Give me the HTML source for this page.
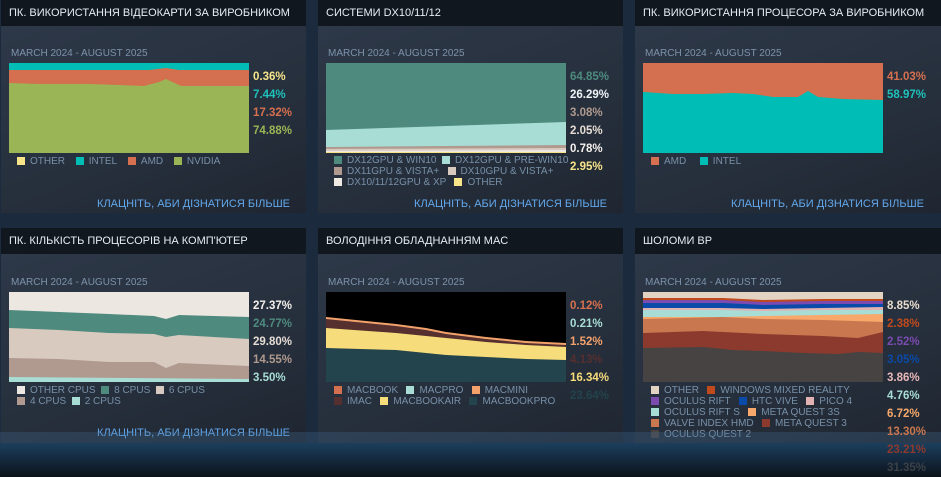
<!DOCTYPE html>
<html><head><meta charset="utf-8"><style>
*{margin:0;padding:0;box-sizing:border-box}
body{width:941px;height:477px;overflow:hidden;background:#1b2a3c;font-family:"Liberation Sans","DejaVu Sans",sans-serif;position:relative}
.hd{position:absolute;height:26px;background:#10171f;color:#e6eef5;font-size:11px;line-height:26px;padding-left:8px;white-space:nowrap;overflow:hidden}
.bd{position:absolute;background:linear-gradient(160deg,#2d3848 0%,#262f3c 60%,#1f2631 100%)}
.sub{position:absolute;font-size:10px;color:#7d93ab;white-space:nowrap}
.ch{position:absolute;width:240px;height:90px}
.pl{position:absolute;font-size:11.5px;font-weight:bold;line-height:18px;white-space:nowrap}
.lg{position:absolute;font-size:10px;color:#7890a8;line-height:11px;white-space:nowrap}
.lg i{display:inline-block;width:8px;height:8px;vertical-align:-1px;margin-right:5px}
.lg span{margin-right:8px}
.lk{position:absolute;font-size:11px;color:#62a8ec;white-space:nowrap;text-align:right;width:290px}
.ft1{position:absolute;left:0;top:432px;width:941px;height:11px;background:rgba(70,110,150,0.28)}
.ft2{position:absolute;left:0;top:443px;width:941px;height:34px;background:linear-gradient(180deg,#1c3f5d 0%,#13263a 55%,#0c1219 100%)}
</style></head><body>

<div class="hd" style="left:1px;top:0;width:305px">ПК. ВИКОРИСТАННЯ ВІДЕОКАРТИ ЗА ВИРОБНИКОМ</div>
<div class="bd" style="left:1px;top:26px;width:305px;height:187px"></div>
<div class="hd" style="left:318px;top:0;width:305px">СИСТЕМИ DX10/11/12</div>
<div class="bd" style="left:318px;top:26px;width:305px;height:187px"></div>
<div class="hd" style="left:635px;top:0;width:306px">ПК. ВИКОРИСТАННЯ ПРОЦЕСОРА ЗА ВИРОБНИКОМ</div>
<div class="bd" style="left:635px;top:26px;width:306px;height:187px"></div>

<div class="hd" style="left:1px;top:228px;width:305px">ПК. КІЛЬКІСТЬ ПРОЦЕСОРІВ НА КОМП'ЮТЕР</div>
<div class="bd" style="left:1px;top:254px;width:305px;height:189px"></div>
<div class="hd" style="left:318px;top:228px;width:305px">ВОЛОДІННЯ ОБЛАДНАННЯМ MAC</div>
<div class="bd" style="left:318px;top:254px;width:305px;height:189px"></div>
<div class="hd" style="left:635px;top:228px;width:306px">ШОЛОМИ ВР</div>
<div class="bd" style="left:635px;top:254px;width:306px;height:189px"></div>

<div class="sub" style="left:11px;top:48px">MARCH 2024 - AUGUST 2025</div>
<svg class="ch" style="left:9px;top:63px" viewBox="0 0 240 90" preserveAspectRatio="none">
<rect width="240" height="90" fill="#00bdb5"/>
<polygon points="0,7 60,7 100,7 140,7 157,5 170,7 240,7 240,90 0,90" fill="#d4704f"/>
<polygon points="0,20 30,21 80,21 110,22 135,23 150,19 157,16 172,23 200,23 240,23 240,90 0,90" fill="#99b555"/>
</svg>
<div class="pl" style="left:253px;top:68px;color:#f8e58a">0.36%</div>
<div class="pl" style="left:253px;top:86px;color:#1fc1bb">7.44%</div>
<div class="pl" style="left:253px;top:104px;color:#d6704f">17.32%</div>
<div class="pl" style="left:253px;top:122px;color:#99b555">74.88%</div>
<div class="lg" style="left:17px;top:156px"><i style="background:#f8e58a"></i><span>OTHER</span> <i style="background:#00bdb5"></i><span>INTEL</span> <i style="background:#d4704f"></i><span>AMD</span> <i style="background:#99b555"></i><span>NVIDIA</span></div>
<div class="lk" style="left:0;top:198px">КЛАЦНІТЬ, АБИ ДІЗНАТИСЯ БІЛЬШЕ</div>

<div class="sub" style="left:328px;top:48px">MARCH 2024 - AUGUST 2025</div>
<svg class="ch" style="left:326px;top:63px" viewBox="0 0 240 90" preserveAspectRatio="none">
<rect width="240" height="90" fill="#4e8a7e"/>
<polygon points="0,67 60,65 120,63 180,61 240,59 240,90 0,90" fill="#a8ddd5"/>
<polygon points="0,84 240,82 240,90 0,90" fill="#b09a8f"/>
<polygon points="0,86 240,85 240,90 0,90" fill="#d9cabf"/>
<polygon points="0,88 240,87 240,90 0,90" fill="#efe9e3"/>
<rect y="89" width="240" height="1" fill="#f8e58a"/>
</svg>
<div class="pl" style="left:570px;top:68px;color:#4e8a7e">64.85%</div>
<div class="pl" style="left:570px;top:86px;color:#eef4f6">26.29%</div>
<div class="pl" style="left:570px;top:104px;color:#b09a8f">3.08%</div>
<div class="pl" style="left:570px;top:122px;color:#e6ddd4">2.05%</div>
<div class="pl" style="left:570px;top:140px;color:#f4f0ec">0.78%</div>
<div class="pl" style="left:570px;top:158px;color:#f8e58a">2.95%</div>
<div class="lg" style="left:334px;top:155px"><i style="background:#4e8a7e"></i>DX12GPU &amp; WIN10 &nbsp;<i style="background:#a8ddd5"></i>DX12GPU &amp; PRE-WIN10</div>
<div class="lg" style="left:334px;top:166px"><i style="background:#b09a8f"></i>DX11GPU &amp; VISTA+ &nbsp;&nbsp;<i style="background:#d9cabf"></i>DX10GPU &amp; VISTA+</div>
<div class="lg" style="left:334px;top:177px"><i style="background:#efe9e3"></i>DX10/11/12GPU &amp; XP &nbsp;&nbsp;<i style="background:#f8e58a"></i>OTHER</div>
<div class="lk" style="left:317px;top:198px">КЛАЦНІТЬ, АБИ ДІЗНАТИСЯ БІЛЬШЕ</div>

<div class="sub" style="left:645px;top:48px">MARCH 2024 - AUGUST 2025</div>
<svg class="ch" style="left:643px;top:63px" viewBox="0 0 240 90" preserveAspectRatio="none">
<rect width="240" height="90" fill="#d4704f"/>
<polygon points="0,29 30,31 60,31 90,30 110,31 130,34 155,34 165,28 175,34 200,36 240,37 240,90 0,90" fill="#00bdb5"/>
</svg>
<div class="pl" style="left:887px;top:68px;color:#d6704f">41.03%</div>
<div class="pl" style="left:887px;top:86px;color:#1fc1bb">58.97%</div>
<div class="lg" style="left:651px;top:156px"><i style="background:#d4704f"></i><span>AMD</span> &nbsp;<i style="background:#00bdb5"></i><span>INTEL</span></div>
<div class="lk" style="left:634px;top:198px">КЛАЦНІТЬ, АБИ ДІЗНАТИСЯ БІЛЬШЕ</div>

<div class="sub" style="left:11px;top:277px">MARCH 2024 - AUGUST 2025</div>
<svg class="ch" style="left:9px;top:292px" viewBox="0 0 240 90" preserveAspectRatio="none">
<rect width="240" height="90" fill="#ede7e1"/>
<polygon points="0,18 50,20 100,22 145,24 157,27 170,23 240,25 240,90 0,90" fill="#4e8a7e"/>
<polygon points="0,36 50,38 100,41 145,42 157,45 170,43 240,47 240,90 0,90" fill="#d9cabf"/>
<polygon points="0,66 50,67 100,70 145,70 157,76 170,71 240,74 240,90 0,90" fill="#b09a8f"/>
<polygon points="0,85 240,87 240,90 0,90" fill="#a8ddd5"/>
</svg>
<div class="pl" style="left:253px;top:297px;color:#f4f0ec">27.37%</div>
<div class="pl" style="left:253px;top:315px;color:#4e8a7e">24.77%</div>
<div class="pl" style="left:253px;top:333px;color:#e6ddd4">29.80%</div>
<div class="pl" style="left:253px;top:351px;color:#b09a8f">14.55%</div>
<div class="pl" style="left:253px;top:369px;color:#a8ddd5">3.50%</div>
<div class="lg" style="left:17px;top:385px"><i style="background:#ede7e1"></i>OTHER CPUS &nbsp;<i style="background:#4e8a7e"></i>8 CPUS &nbsp;<i style="background:#d9cabf"></i>6 CPUS</div>
<div class="lg" style="left:17px;top:396px"><i style="background:#b09a8f"></i>4 CPUS &nbsp;<i style="background:#a8ddd5"></i>2 CPUS</div>
<div class="lk" style="left:0;top:427px">КЛАЦНІТЬ, АБИ ДІЗНАТИСЯ БІЛЬШЕ</div>

<div class="sub" style="left:328px;top:277px">MARCH 2024 - AUGUST 2025</div>
<svg class="ch" style="left:326px;top:292px" viewBox="0 0 240 90" preserveAspectRatio="none">
<rect width="240" height="90" fill="#000"/>
<polygon points="0,25 70,32 100,36 120,40 160,45 200,49 240,51 240,90 0,90" fill="#f4a26b"/>
<polygon points="0,27 70,34 100,38 120,42 160,47 200,51 240,53 240,90 0,90" fill="#55302f"/>
<polygon points="0,36 70,41 100,44 120,46 160,50 200,53 240,55 240,90 0,90" fill="#f6dc7a"/>
<polygon points="0,56 70,58 100,61 120,63 160,65 200,67 240,68 240,90 0,90" fill="#23434d"/>
</svg>
<div class="pl" style="left:570px;top:297px;color:#d6704f">0.12%</div>
<div class="pl" style="left:570px;top:315px;color:#a8ddd5">0.21%</div>
<div class="pl" style="left:570px;top:333px;color:#f4a26b">1.52%</div>
<div class="pl" style="left:570px;top:351px;color:#55302f">4.13%</div>
<div class="pl" style="left:570px;top:369px;color:#f6dc7a">16.34%</div>
<div class="pl" style="left:570px;top:387px;color:#23434d">23.64%</div>
<div class="lg" style="left:334px;top:385px"><i style="background:#d4704f"></i>MACBOOK &nbsp;&nbsp;<i style="background:#a8ddd5"></i>MACPRO &nbsp;&nbsp;<i style="background:#f4a26b"></i>MACMINI</div>
<div class="lg" style="left:334px;top:396px"><i style="background:#55302f"></i>IMAC &nbsp;&nbsp;<i style="background:#f6dc7a"></i>MACBOOKAIR &nbsp;&nbsp;<i style="background:#23434d"></i>MACBOOKPRO</div>

<div class="sub" style="left:645px;top:277px">MARCH 2024 - AUGUST 2025</div>
<svg class="ch" style="left:643px;top:292px" viewBox="0 0 240 90" preserveAspectRatio="none">
<rect width="240" height="90" fill="#e2d3c3"/>
<polygon points="0,6 80,6 120,8 180,7 240,7 240,90 0,90" fill="#c14a1c"/>
<polygon points="0,8 80,8 120,10 180,9 240,9 240,90 0,90" fill="#7b4bb0"/>
<polygon points="0,11 80,11 120,13 180,12 240,12 240,90 0,90" fill="#0a4aa8"/>
<polygon points="0,16 80,16 120,17 180,16 240,15 240,90 0,90" fill="#e0b2b2"/>
<polygon points="0,18 80,18 120,19 180,18 240,18 240,90 0,90" fill="#a8ddd5"/>
<polygon points="0,25 80,25 120,24 180,23 240,22 240,90 0,90" fill="#f7a86a"/>
<polygon points="0,27 80,25 120,27 180,28 240,30 240,90 0,90" fill="#c8774f"/>
<polygon points="0,41 60,39 120,42 180,44 215,46 240,40 240,90 0,90" fill="#8c3a2e"/>
<polygon points="0,56 60,55 90,58 120,59 160,61 195,62 215,60 240,61 240,90 0,90" fill="#474343"/>
</svg>
<div class="lg" style="left:651px;top:385px"><i style="background:#e2d3c3"></i>OTHER &nbsp;&nbsp;<i style="background:#c14a1c"></i>WINDOWS MIXED REALITY</div>
<div class="lg" style="left:651px;top:396px"><i style="background:#7b4bb0"></i>OCULUS RIFT &nbsp;&nbsp;<i style="background:#0a4aa8"></i>HTC VIVE &nbsp;&nbsp;<i style="background:#e0b2b2"></i>PICO 4</div>
<div class="lg" style="left:651px;top:407px"><i style="background:#a8ddd5"></i>OCULUS RIFT S &nbsp;&nbsp;<i style="background:#f7a86a"></i>META QUEST 3S</div>
<div class="lg" style="left:651px;top:418px"><i style="background:#c8774f"></i>VALVE INDEX HMD &nbsp;&nbsp;<i style="background:#8c3a2e"></i>META QUEST 3</div>
<div class="lg" style="left:651px;top:429px"><i style="background:#474343"></i>OCULUS QUEST 2</div>

<div class="ft1"></div>
<div class="ft2"></div>

<div class="pl" style="left:887px;top:297px;color:#e8dccd">8.85%</div>
<div class="pl" style="left:887px;top:315px;color:#c14a1c">2.38%</div>
<div class="pl" style="left:887px;top:333px;color:#7b4bb0">2.52%</div>
<div class="pl" style="left:887px;top:351px;color:#0a4aa8">3.05%</div>
<div class="pl" style="left:887px;top:369px;color:#e8b8b8">3.86%</div>
<div class="pl" style="left:887px;top:387px;color:#a8ddd5">4.76%</div>
<div class="pl" style="left:887px;top:405px;color:#f7a86a">6.72%</div>
<div class="pl" style="left:887px;top:423px;color:#c8774f">13.30%</div>
<div class="pl" style="left:887px;top:441px;color:#8c3a2e">23.21%</div>
<div class="pl" style="left:887px;top:459px;color:#3c4046">31.35%</div>
</body></html>
